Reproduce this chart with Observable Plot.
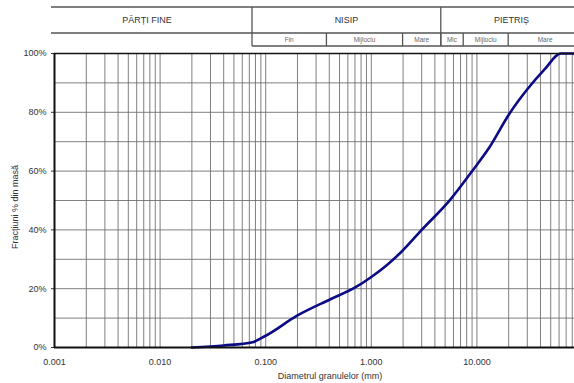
<!DOCTYPE html>
<html><head><meta charset="utf-8">
<script src="https://cdn.jsdelivr.net/npm/d3@7"></script>
<script src="https://cdn.jsdelivr.net/npm/@observablehq/plot@0.6"></script>
<style>
body{margin:0;overflow:hidden;background:#fff;}
#chart svg{overflow:hidden;}
</style></head>
<body><div id="chart"></div>
<script>
// Grain size distribution
const diameters = [0.02, 0.04, 0.075, 0.1, 0.2,  0.41, 0.71, 1.0, 1.4, 1.9,  3.0, 5.6,  9.1,  13.1, 20.3, 30.3, 43.5, 62.5, 100];
const passing   = [0,    0.7,  1.8,   4,   10.9, 16.4, 20.5, 24,  28,  32.3, 40,  50.3, 60.2, 68,   79.5, 88,   94.5, 100,  100];

const xTickValues = [0.001, 0.01, 0.1, 1, 10];
const yTickValues = [0, 20, 40, 60, 80, 100];
const yGridValues = [10, 20, 30, 40, 50, 60, 70, 80, 90];

const headerMain = ["PĂRȚI FINE", "NISIP", "PIETRIȘ"];
const headerMainBounds = [[0.001, 0.075], [0.075, 4.6], [4.6, 100]];
const headerSub = ["Fin", "Mijlociu", "Mare", "Mic", "Mijlociu", "Mare"];
const headerSubBounds = [[0.075, 0.38], [0.38, 2], [2, 4.6], [4.6, 7.5], [7.5, 20], [20, 100]];

const xLabel = "Diametrul granulelor (mm)";
const yLabel = "Fracțiuni % din masă";

const data = diameters.map((d, i) => ({d, p: passing[i]}));
const minorGrid = d3.scaleLog().domain([0.001, 100]).ticks().filter(v => v > 0.001);

const font = "'Liberation Sans', Arial, sans-serif";

const plot = Plot.plot({
  width: 574,
  height: 383,
  marginLeft: 54,
  marginTop: 53,
  marginBottom: 36,
  marginRight: -8,
  style: {fontFamily: font, fontSize: "9px", color: "#333", background: "#fff"},
  x: {type: "log", domain: [0.001, 100]},
  y: {domain: [0, 100]},
  marks: [
    Plot.ruleX(minorGrid, {stroke: "#6a6a6a", strokeWidth: 1, strokeOpacity: 0.85}),
    Plot.ruleY(yGridValues, {stroke: "#6a6a6a", strokeWidth: 1, strokeOpacity: 0.85}),
    Plot.axisX(xTickValues, {tickFormat: d3.format(".3f"), tickSize: 0, tickPadding: 11, label: null, fontSize: 9, fill: "#333"}),
    Plot.axisY(yTickValues, {tickFormat: d => d + "%", tickSize: 3, tickPadding: 5, label: null, fontSize: 9, fill: "#333", stroke: "#333"}),
    Plot.line(data, {x: "d", y: "p", stroke: "#0b0b86", strokeWidth: 2.6, curve: "monotone-x"}),
    Plot.ruleY([100], {stroke: "#111", strokeWidth: 1.6}),
    Plot.ruleY([0], {stroke: "#111", strokeWidth: 2}),
    Plot.ruleX([0.001], {stroke: "#111", strokeWidth: 2})
  ]
});

document.getElementById("chart").appendChild(plot);

// Header table and axis titles
const xs = plot.scale("x");
const X = v => xs.apply(v);
const svg = d3.select(plot);
const g = svg.append("g").attr("font-family", font);
const lineColor = "#555";
const yTop = 7, yMid = 33, yBot = 46;
const left = X(0.001) - 3, right = X(100);

g.append("line").attr("x1", left).attr("x2", right).attr("y1", yTop).attr("y2", yTop).attr("stroke", lineColor).attr("stroke-width", 1.3);
g.append("line").attr("x1", left).attr("x2", right).attr("y1", yMid).attr("y2", yMid).attr("stroke", lineColor).attr("stroke-width", 1.3);
g.append("line").attr("x1", X(headerSubBounds[0][0])).attr("x2", right).attr("y1", yBot).attr("y2", yBot).attr("stroke", lineColor).attr("stroke-width", 1.3);

headerMainBounds.forEach(([a, b], i) => {
  if (i > 0) g.append("line").attr("x1", X(a)).attr("x2", X(a)).attr("y1", yTop).attr("y2", yBot).attr("stroke", lineColor).attr("stroke-width", 1.3);
  g.append("text").attr("x", (X(a) + X(b)) / 2 - (i === 0 ? 6 : 0)).attr("y", 20).attr("dy", "0.35em")
    .attr("text-anchor", "middle").attr("font-size", 9).attr("fill", "#333").text(headerMain[i]);
});
headerSubBounds.forEach(([a, b], i) => {
  if (i > 0) g.append("line").attr("x1", X(a)).attr("x2", X(a)).attr("y1", yMid).attr("y2", yBot).attr("stroke", lineColor).attr("stroke-width", 1.3);
  g.append("text").attr("x", (X(a) + X(b)) / 2).attr("y", 40).attr("dy", "0.35em")
    .attr("text-anchor", "middle").attr("font-size", 6.5).attr("fill", "#666").text(headerSub[i]);
});

g.append("text").attr("x", 330).attr("y", 376).attr("dy", "0.35em").attr("text-anchor", "middle")
  .attr("font-size", 9).attr("fill", "#333").text(xLabel);
g.append("text").attr("transform", "translate(15,207) rotate(-90)").attr("dy", "0.35em").attr("text-anchor", "middle")
  .attr("font-size", 9).attr("fill", "#333").text(yLabel);
</script>
</body></html>
